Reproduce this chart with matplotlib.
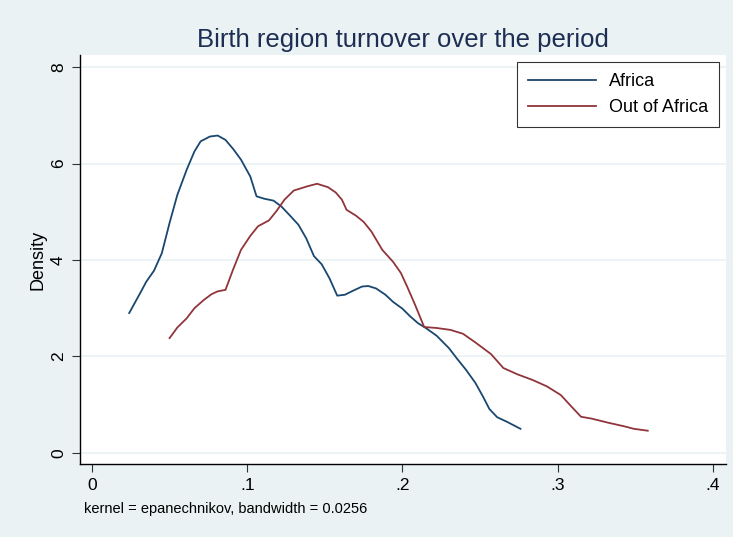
# Densidad kernel de la rotación por región de nacimiento (estilo Stata s2color)
import matplotlib
matplotlib.use("Agg")
import matplotlib.pyplot as plt

plt.rcParams['font.family'] = ['Liberation Sans', 'DejaVu Sans']

# Datos
africa_x = [0.024, 0.031, 0.035, 0.040, 0.045, 0.050, 0.055, 0.061, 0.066, 0.070,
            0.076, 0.081, 0.086, 0.091, 0.096, 0.102, 0.106, 0.111, 0.117, 0.122,
            0.127, 0.133, 0.138, 0.143, 0.148, 0.153, 0.158, 0.163, 0.168, 0.174,
            0.178, 0.183, 0.189, 0.194, 0.200, 0.205, 0.210, 0.215, 0.222, 0.230,
            0.235, 0.241, 0.247, 0.252, 0.256, 0.261, 0.267, 0.276]
africa_y = [2.90, 3.31, 3.55, 3.78, 4.14, 4.77, 5.35, 5.87, 6.25, 6.46,
            6.56, 6.58, 6.49, 6.30, 6.08, 5.73, 5.32, 5.27, 5.23, 5.11,
            4.94, 4.73, 4.45, 4.08, 3.91, 3.62, 3.26, 3.28, 3.36, 3.45,
            3.46, 3.41, 3.28, 3.13, 2.99, 2.83, 2.69, 2.59, 2.43, 2.17,
            1.96, 1.72, 1.45, 1.16, 0.91, 0.74, 0.65, 0.50]

fuera_x = [0.050, 0.055, 0.061, 0.066, 0.072, 0.077, 0.081, 0.086, 0.091, 0.096,
           0.102, 0.107, 0.114, 0.119, 0.124, 0.130, 0.135, 0.139, 0.145, 0.152,
           0.157, 0.161, 0.164, 0.170, 0.175, 0.180, 0.187, 0.194, 0.199, 0.203,
           0.208, 0.214, 0.222, 0.231, 0.239, 0.247, 0.257, 0.265, 0.274, 0.284,
           0.293, 0.302, 0.308, 0.315, 0.322, 0.332, 0.343, 0.349, 0.358]
fuera_y = [2.38, 2.60, 2.79, 3.00, 3.17, 3.29, 3.35, 3.38, 3.81, 4.21,
           4.50, 4.70, 4.82, 5.02, 5.25, 5.44, 5.49, 5.53, 5.58, 5.51,
           5.40, 5.25, 5.04, 4.92, 4.79, 4.59, 4.21, 3.96, 3.73, 3.45,
           3.08, 2.61, 2.59, 2.55, 2.47, 2.29, 2.05, 1.76, 1.63, 1.51,
           1.38, 1.20, 0.99, 0.75, 0.71, 0.63, 0.55, 0.50, 0.46]

x_ticks = [0, 0.1, 0.2, 0.3, 0.4]
x_labels = ['0', '.1', '.2', '.3', '.4']
y_ticks = [0, 2, 4, 6, 8]

fondo = '#EAF2F3'
azul = '#1A476F'
granate = '#90353B'

fig = plt.figure(figsize=(7.33, 5.37), dpi=100, facecolor=fondo)
ax = fig.add_axes([80 / 733, 1 - 464 / 537, 646 / 733, 409 / 537])
ax.set_facecolor('white')

# Rejilla horizontal
for yv in y_ticks:
    ax.axhline(yv, color=fondo, lw=1.2, zorder=0)

ax.plot(africa_x, africa_y, color=azul, lw=1.3, label='Africa')
ax.plot(fuera_x, fuera_y, color=granate, lw=1.3, label='Out of Africa')

ax.set_xlim(-0.0077, 0.4084)
ax.set_ylim(-0.23, 8.25)
ax.set_xticks(x_ticks)
ax.set_xticklabels(x_labels)
ax.set_yticks(y_ticks)
ax.set_yticklabels([str(v) for v in y_ticks], rotation=90, va='center')
ax.tick_params(axis='both', labelsize=12.5, length=6, width=0.8, color='#333333')
ax.tick_params(axis='x', pad=4)
ax.tick_params(axis='y', pad=4)

for lado in ['top', 'right']:
    ax.spines[lado].set_visible(False)
for lado in ['left', 'bottom']:
    ax.spines[lado].set_color('black')
    ax.spines[lado].set_linewidth(1.0)

ax.set_ylabel('Density', fontsize=13, labelpad=3)

fig.text(403 / 733, 1 - 40 / 537, 'Birth region turnover over the period',
         ha='center', va='center', fontsize=18.5, color='#1E2D53')
fig.text(84 / 733, 1 - 509 / 537, 'kernel = epanechnikov, bandwidth = 0.0256',
         ha='left', va='center', fontsize=10.5)

leg = ax.legend(loc='upper right', bbox_to_anchor=(719 / 733, 1 - 62 / 537),
                bbox_transform=fig.transFigure, borderaxespad=0, fontsize=13,
                frameon=True, fancybox=False, handlelength=3.8, handletextpad=0.7,
                borderpad=0.6, labelspacing=0.5)
leg.get_frame().set_edgecolor('black')
leg.get_frame().set_linewidth(0.8)

fig.savefig('out.png', dpi=100, facecolor=fondo)
